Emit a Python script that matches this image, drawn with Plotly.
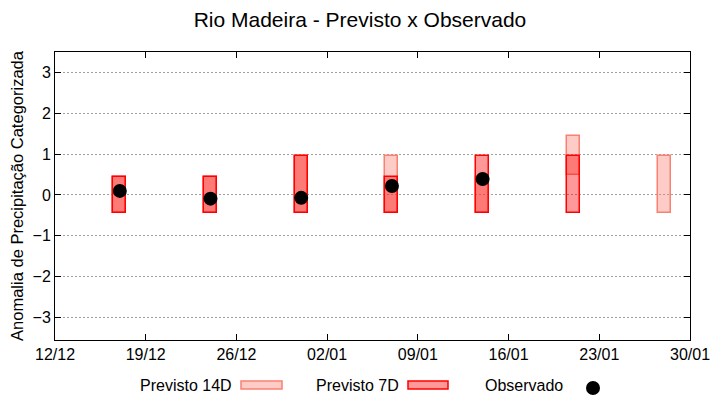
import plotly.graph_objects as go

# Data
dates = ["2020-12-17", "2020-12-24", "2020-12-31", "2021-01-07", "2021-01-14", "2021-01-21", "2021-01-28"]
p14_base = [-0.45, -0.45, -0.45, -0.45, -0.45, 0.50, -0.45]
p14_top = [0.45, 0.45, 0.95, 0.95, 0.45, 1.45, 0.95]
p7_dates = ["2020-12-17", "2020-12-24", "2020-12-31", "2021-01-07", "2021-01-14", "2021-01-21"]
p7_base = [-0.45, -0.45, -0.45, -0.45, -0.45, -0.45]
p7_top = [0.45, 0.45, 0.95, 0.45, 0.95, 0.95]
obs_dates = ["2020-12-17", "2020-12-24", "2020-12-31", "2021-01-07", "2021-01-14"]
obs_vals = [0.10, -0.09, -0.07, 0.22, 0.39]
xtick_vals = ["2020-12-12", "2020-12-19", "2020-12-26", "2021-01-02", "2021-01-09", "2021-01-16", "2021-01-23", "2021-01-30"]
ytick_vals = [-3, -2, -1, 0, 1, 2, 3]

DAY = 86400000
C14_FILL = "rgba(250,128,114,0.4)"
C14_LINE = "salmon"
C7_FILL = "rgba(255,0,0,0.4)"
C7_LINE = "red"

fig = go.Figure()
fig.add_trace(go.Bar(
    x=dates, base=p14_base, y=[t - b for t, b in zip(p14_top, p14_base)],
    width=DAY, marker=dict(color=C14_FILL, line=dict(color=C14_LINE, width=1.5)),
    name="Previsto 14D", showlegend=False))
fig.add_trace(go.Bar(
    x=p7_dates, base=p7_base, y=[t - b for t, b in zip(p7_top, p7_base)],
    width=DAY, marker=dict(color=C7_FILL, line=dict(color=C7_LINE, width=1.5)),
    name="Previsto 7D", showlegend=False))
fig.add_trace(go.Scatter(
    x=obs_dates, y=obs_vals, mode="markers",
    marker=dict(color="black", size=14, symbol="circle"),
    name="Observado", showlegend=False))

tickfont = dict(family="Liberation Sans Narrow, Liberation Sans, Arial", size=16, color="black")

# plot area in pixels
L, R, T, B = 55, 690, 52, 340
PW, PH = R - L, B - T

fig.update_layout(
    width=720, height=400,
    plot_bgcolor="white", paper_bgcolor="white",
    barmode="overlay", bargap=0,
    margin=dict(l=L, r=720 - R, t=T, b=400 - B, autoexpand=False),
    title=dict(text="Rio Madeira - Previsto x Observado", x=0.5, xanchor="center",
               y=1 - 20 / 400, yanchor="middle",
               font=dict(family="Liberation Sans, Arial", size=21, color="black")),
    font=dict(family="Liberation Sans, Arial", size=16, color="black"),
)
fig.update_xaxes(
    type="date", range=["2020-12-12", "2021-01-30"],
    tickvals=xtick_vals, tickformat="%d/%m",
    showgrid=False, zeroline=False, automargin=False,
    showline=True, linecolor="black", linewidth=1, mirror="ticks",
    ticks="inside", ticklen=6, tickcolor="black",
    tickfont=tickfont,
)
fig.update_yaxes(
    range=[-3.55, 3.5], tickvals=ytick_vals,
    showgrid=True, gridcolor="#a0a0a0", griddash="2px,2px", gridwidth=1,
    zeroline=False, automargin=False,
    showline=True, linecolor="black", linewidth=1, mirror="ticks",
    ticks="inside", ticklen=6, tickcolor="black",
    tickfont=tickfont,
    title=dict(text="Anomalia de Precipitação Categorizada", standoff=4,
               font=dict(family="Liberation Sans, Arial", size=16.5, color="black")),
)

# Manual legend (gnuplot style: text then sample)
lfont = dict(family="Liberation Sans, Arial", size=16, color="black")
def px(x):
    return (x - L) / PW
def py(y):
    return (B - y) / PH

legend_items = [
    ("Previsto 14D", 234, 241, 282, C14_FILL, C14_LINE),
    ("Previsto 7D", 401, 408, 448, C7_FILL, C7_LINE),
]
for text, tx, x0, x1, fill, line in legend_items:
    fig.add_annotation(xref="paper", yref="paper", x=px(tx), y=py(385),
                       text=text, showarrow=False, xanchor="right", yanchor="middle", font=lfont)
    fig.add_shape(type="rect", xref="paper", yref="paper",
                  x0=px(x0), x1=px(x1), y0=py(389), y1=py(381),
                  fillcolor=fill, line=dict(color=line, width=1.5))
fig.add_annotation(xref="paper", yref="paper", x=px(565), y=py(385),
                   text="Observado", showarrow=False, xanchor="right", yanchor="middle", font=lfont)
fig.add_shape(type="circle", xref="paper", yref="paper",
              x0=px(586), x1=px(600), y0=py(395), y1=py(381),
              fillcolor="black", line=dict(color="black", width=0))

fig.write_html("out.html", config={"displayModeBar": False},
               post_script="document.body.style.margin='0px';")
